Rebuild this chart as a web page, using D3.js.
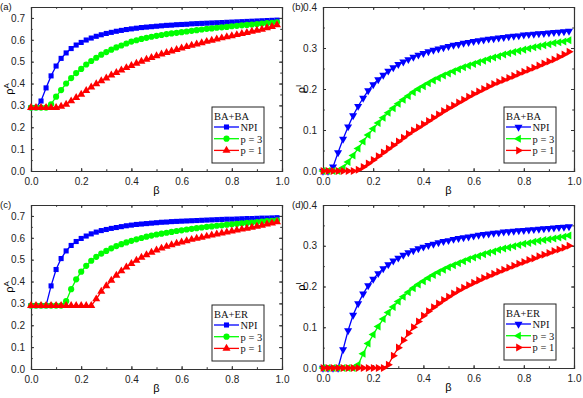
<!DOCTYPE html>
<html>
<head>
<meta charset="utf-8">
<script src="https://d3js.org/d3.v7.min.js"></script>
<style>
  body { margin: 0; background: #fff; }
  svg { display: block; }
</style>
</head>
<body>
<script>
// beta values 0 .. 0.98 step 0.02 (50 points)
const beta = [0,0.02,0.04,0.06,0.08,0.10,0.12,0.14,0.16,0.18,0.20,0.22,0.24,0.26,0.28,0.30,0.32,0.34,0.36,0.38,0.40,0.42,0.44,0.46,0.48,0.50,0.52,0.54,0.56,0.58,0.60,0.62,0.64,0.66,0.68,0.70,0.72,0.74,0.76,0.78,0.80,0.82,0.84,0.86,0.88,0.90,0.92,0.94,0.96,0.98];

// (a) BA+BA rho^A
const aNPI = [0.29,0.29,0.32,0.38,0.435,0.48,0.515,0.54,0.56,0.576,0.588,0.599,0.608,0.616,0.623,0.629,0.634,0.639,0.643,0.647,0.650,0.653,0.656,0.658,0.660,0.662,0.664,0.666,0.667,0.669,0.670,0.671,0.673,0.674,0.675,0.676,0.677,0.678,0.679,0.680,0.681,0.682,0.683,0.684,0.685,0.686,0.687,0.688,0.689,0.690];
const aP3  = [0.29,0.29,0.29,0.29,0.305,0.34,0.37,0.40,0.425,0.448,0.467,0.487,0.503,0.518,0.532,0.544,0.555,0.565,0.574,0.583,0.592,0.598,0.604,0.609,0.614,0.618,0.622,0.626,0.629,0.632,0.635,0.638,0.641,0.644,0.647,0.650,0.652,0.655,0.657,0.659,0.662,0.664,0.666,0.668,0.670,0.672,0.674,0.676,0.678,0.680];
const aP1  = [0.29,0.29,0.29,0.29,0.29,0.29,0.295,0.305,0.32,0.335,0.350,0.367,0.383,0.398,0.412,0.425,0.438,0.450,0.461,0.472,0.482,0.492,0.501,0.510,0.518,0.526,0.534,0.541,0.548,0.555,0.562,0.568,0.574,0.580,0.586,0.592,0.597,0.603,0.608,0.613,0.618,0.623,0.628,0.633,0.638,0.643,0.648,0.654,0.660,0.668];

// (b) BA+BA rho^I
const bNPI = [0,0,0.01,0.045,0.078,0.108,0.135,0.158,0.178,0.196,0.211,0.223,0.234,0.244,0.252,0.260,0.266,0.272,0.278,0.283,0.287,0.291,0.295,0.298,0.301,0.304,0.307,0.309,0.312,0.314,0.316,0.318,0.320,0.322,0.323,0.325,0.326,0.328,0.329,0.330,0.332,0.333,0.334,0.335,0.336,0.337,0.338,0.339,0.340,0.341];
const bP3  = [0,0,0,0,0.008,0.022,0.038,0.055,0.072,0.088,0.103,0.117,0.130,0.142,0.153,0.164,0.174,0.183,0.192,0.200,0.207,0.214,0.221,0.227,0.233,0.238,0.243,0.248,0.253,0.257,0.261,0.265,0.269,0.273,0.277,0.280,0.284,0.287,0.290,0.293,0.296,0.299,0.302,0.304,0.307,0.309,0.312,0.314,0.316,0.319];
const bP1  = [0,0,0,0,0,0,0,0.003,0.010,0.018,0.027,0.036,0.045,0.054,0.063,0.072,0.081,0.090,0.099,0.106,0.114,0.122,0.130,0.138,0.146,0.153,0.160,0.167,0.174,0.181,0.188,0.194,0.200,0.206,0.212,0.217,0.222,0.227,0.232,0.237,0.242,0.247,0.252,0.257,0.262,0.267,0.272,0.278,0.284,0.291];

// (c) BA+ER rho^A
const cNPI = [0.29,0.29,0.29,0.29,0.38,0.455,0.505,0.54,0.565,0.583,0.597,0.608,0.618,0.626,0.633,0.638,0.643,0.647,0.651,0.655,0.658,0.661,0.663,0.665,0.667,0.669,0.671,0.672,0.674,0.675,0.676,0.677,0.678,0.679,0.680,0.681,0.682,0.683,0.684,0.685,0.685,0.686,0.687,0.688,0.688,0.689,0.690,0.690,0.691,0.692];
const cP3  = [0.29,0.29,0.29,0.29,0.29,0.29,0.29,0.31,0.365,0.41,0.445,0.472,0.495,0.513,0.528,0.540,0.552,0.562,0.571,0.579,0.586,0.593,0.599,0.605,0.610,0.615,0.619,0.623,0.627,0.631,0.634,0.638,0.641,0.644,0.647,0.650,0.652,0.655,0.657,0.660,0.662,0.664,0.666,0.668,0.670,0.672,0.674,0.676,0.678,0.680];
const cP1  = [0.29,0.29,0.29,0.29,0.29,0.29,0.29,0.29,0.29,0.29,0.29,0.29,0.29,0.32,0.355,0.38,0.405,0.428,0.448,0.466,0.482,0.497,0.510,0.522,0.533,0.543,0.552,0.560,0.567,0.574,0.580,0.586,0.592,0.597,0.602,0.607,0.612,0.617,0.621,0.626,0.630,0.635,0.639,0.643,0.648,0.652,0.657,0.662,0.667,0.673];

// (d) BA+ER rho^I
const dNPI = [0,0,0,0,0.045,0.092,0.130,0.158,0.182,0.202,0.218,0.232,0.244,0.254,0.263,0.270,0.277,0.283,0.288,0.293,0.297,0.301,0.304,0.308,0.311,0.313,0.316,0.318,0.320,0.322,0.324,0.326,0.328,0.329,0.331,0.332,0.334,0.335,0.336,0.337,0.338,0.339,0.340,0.341,0.342,0.343,0.344,0.345,0.346,0.347];
const dP3  = [0,0,0,0,0,0,0,0.008,0.035,0.060,0.082,0.102,0.120,0.136,0.150,0.163,0.175,0.186,0.196,0.205,0.213,0.221,0.228,0.235,0.241,0.247,0.252,0.257,0.262,0.267,0.271,0.275,0.279,0.283,0.286,0.290,0.293,0.296,0.299,0.302,0.305,0.307,0.310,0.312,0.314,0.316,0.318,0.320,0.322,0.325];
const dP1  = [0,0,0,0,0,0,0,0,0,0,0,0,0,0.008,0.030,0.050,0.068,0.085,0.100,0.114,0.128,0.139,0.149,0.158,0.167,0.175,0.183,0.190,0.197,0.203,0.209,0.215,0.221,0.226,0.231,0.236,0.241,0.246,0.251,0.256,0.260,0.265,0.269,0.274,0.278,0.282,0.287,0.291,0.295,0.300];

const seriesNames = ["NPI", "p = 3", "p = 1"];
const seriesColors = ["#0000ff", "#00ff00", "#ff0000"];
const xTicks = [0, 0.2, 0.4, 0.6, 0.8, 1.0];
const yTicksA = [0, 0.1, 0.2, 0.3, 0.4, 0.5, 0.6, 0.7];
const yTicksI = [0, 0.1, 0.2, 0.3, 0.4];

const svg = d3.select("body").append("svg")
  .attr("width", 583).attr("height", 398);

const sym = {
  square: d3.symbol().type(d3.symbolSquare).size(26),
  circle: d3.symbol().type(d3.symbolCircle).size(30),
  tri: d3.symbol().type(d3.symbolTriangle).size(28)
};
const rot = { up: 0, down: 180, left: -90, right: 90 };

const panels = [
  { tag: "(a)", net: "BA+BA", ylab: "A", x0: 31, x1: 282, yb: 171, yt: 7, ymax: 0.75, ticks: yTicksA, data: [aNPI, aP3, aP1], marks: ["square", "circle", "up"] },
  { tag: "(b)", net: "BA+BA", ylab: "I", x0: 323, x1: 574, yb: 171, yt: 7, ymax: 0.4, ticks: yTicksI, data: [bNPI, bP3, bP1], marks: ["down", "left", "right"] },
  { tag: "(c)", net: "BA+ER", ylab: "A", x0: 31, x1: 282, yb: 369, yt: 205, ymax: 0.75, ticks: yTicksA, data: [cNPI, cP3, cP1], marks: ["square", "circle", "up"] },
  { tag: "(d)", net: "BA+ER", ylab: "I", x0: 323, x1: 574, yb: 368, yt: 205, ymax: 0.4, ticks: yTicksI, data: [dNPI, dP3, dP1], marks: ["down", "left", "right"] }
];

function drawMarker(g, kind, cx, cy, color) {
  let d, r = 0;
  if (kind === "square") d = sym.square();
  else if (kind === "circle") d = sym.circle();
  else { d = sym.tri(); r = rot[kind]; }
  g.append("path").attr("d", d)
    .attr("transform", `translate(${cx},${cy}) rotate(${r})`).attr("fill", color);
}

panels.forEach(p => {
  const x = d3.scaleLinear().domain([0, 1]).range([p.x0, p.x1]);
  const y = d3.scaleLinear().domain([0, p.ymax]).range([p.yb, p.yt]);
  const g = svg.append("g");
  const axisCol = "#333";
  const minorX = d3.range(0, 1.0001, 0.1);
  const minorY = d3.range(0, p.ymax + 0.0001, 0.05);

  // axes, ticks pointing inward
  g.append("g").attr("transform", `translate(0,${p.yb})`)
    .call(d3.axisBottom(x).tickValues(xTicks).tickSize(-3).tickPadding(7).tickFormat(d3.format(".1f")));
  g.append("g").attr("transform", `translate(0,${p.yt})`)
    .call(d3.axisTop(x).tickValues(xTicks).tickSize(-3).tickFormat(""));
  g.append("g").attr("transform", `translate(${p.x0},0)`)
    .call(d3.axisLeft(y).tickValues(p.ticks).tickSize(-3).tickPadding(6).tickFormat(d3.format(".1f")));
  g.append("g").attr("transform", `translate(${p.x1},0)`)
    .call(d3.axisRight(y).tickValues(p.ticks).tickSize(-3).tickFormat(""));
  // minor ticks
  g.append("g").attr("transform", `translate(0,${p.yb})`).call(d3.axisBottom(x).tickValues(minorX).tickSize(-1.8).tickFormat(""));
  g.append("g").attr("transform", `translate(0,${p.yt})`).call(d3.axisTop(x).tickValues(minorX).tickSize(-1.8).tickFormat(""));
  g.append("g").attr("transform", `translate(${p.x0},0)`).call(d3.axisLeft(y).tickValues(minorY).tickSize(-1.8).tickFormat(""));
  g.append("g").attr("transform", `translate(${p.x1},0)`).call(d3.axisRight(y).tickValues(minorY).tickSize(-1.8).tickFormat(""));

  g.selectAll(".domain").attr("stroke", axisCol).attr("stroke-width", 1.1);
  g.selectAll(".tick line").attr("stroke", axisCol);
  g.selectAll(".tick text").attr("font-family", "Liberation Sans, Arial, sans-serif").attr("font-size", 10).attr("fill", "#222");

  // series lines + markers
  p.data.forEach((vals, si) => {
    const pts = beta.map((b, i) => [b, vals[i]]);
    g.append("path").datum(pts)
      .attr("fill", "none").attr("stroke", seriesColors[si]).attr("stroke-width", 1.3)
      .attr("d", d3.line().x(d => x(d[0])).y(d => y(d[1])));
    pts.forEach(d => drawMarker(g, p.marks[si], x(d[0]), y(d[1]), seriesColors[si]));
  });

  // legend
  const lx = p.x0 + 181, ly = p.yb - 64;
  const lg = g.append("g").attr("transform", `translate(${lx},${ly})`);
  lg.append("rect").attr("x", 0).attr("y", 0).attr("width", 52).attr("height", 56)
    .attr("fill", "#fff").attr("stroke", "#222").attr("stroke-width", 1);
  lg.append("text").attr("x", 2).attr("y", 12.5).text(p.net)
    .attr("font-family", "Liberation Serif, Times New Roman, serif").attr("font-size", 10.5).attr("fill", "#111");
  seriesNames.forEach((n, si) => {
    const yy = 20 + si * 11.7;
    lg.append("line").attr("x1", 2).attr("x2", 27).attr("y1", yy).attr("y2", yy)
      .attr("stroke", seriesColors[si]).attr("stroke-width", 1.3);
    drawMarker(lg, p.marks[si], 14.5, yy, seriesColors[si]);
    lg.append("text").attr("x", 28.5).attr("y", yy + 3.8).text(n)
      .attr("font-family", "Liberation Serif, Times New Roman, serif").attr("font-size", 10.5).attr("fill", "#111");
  });

  // axis labels
  g.append("text").attr("x", (p.x0 + p.x1) / 2).attr("y", p.yb + 23).attr("text-anchor", "middle")
    .attr("font-family", "Liberation Sans, Arial, sans-serif").attr("font-size", 11).text("β");
  const yl = g.append("text").attr("transform", `translate(${p.x0 - 18},${(p.yt + p.yb) / 2}) rotate(-90)`)
    .attr("text-anchor", "middle").attr("font-family", "Liberation Sans, Arial, sans-serif").attr("font-size", 11);
  yl.append("tspan").text("ρ");
  yl.append("tspan").attr("dy", -4).attr("font-size", 8).text(p.ylab);

  // panel tag
  g.append("text").attr("x", p.x0 - 31).attr("y", p.yt + 3).text(p.tag)
    .attr("font-family", "Liberation Sans, Arial, sans-serif").attr("font-size", 9.5).attr("fill", "#111");
});
</script>
</body>
</html>
